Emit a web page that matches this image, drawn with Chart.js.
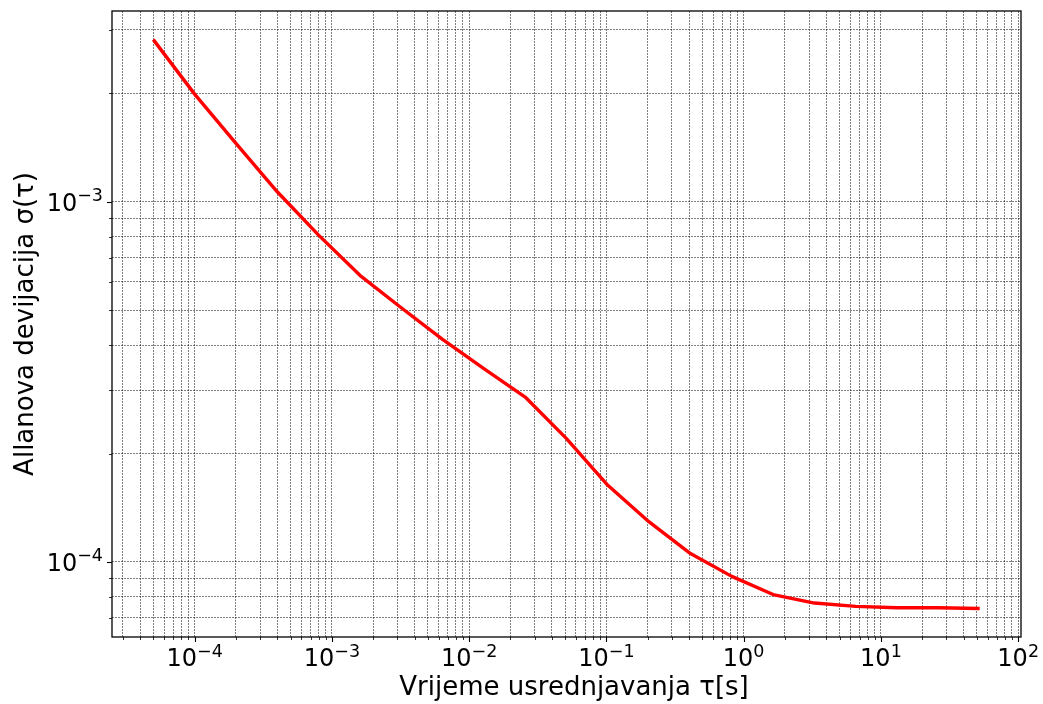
<!DOCTYPE html>
<html>
<head>
<meta charset="utf-8">
<script src="https://cdn.jsdelivr.net/npm/chart.js@4.4.0/dist/chart.umd.min.js"></script>
<style>
  html, body { margin: 0; padding: 0; background: #ffffff; }
  #wrap { width: 1043px; height: 704px; }
</style>
</head>
<body>
<div id="wrap"><canvas id="c" width="1043" height="704"></canvas></div>
<script>
// Averaging times (s), octave spaced from the 50 µs sample period
const tau = [5e-5, 1e-4, 2e-4, 4e-4, 8e-4, 1.6e-3, 3.2e-3, 6.4e-3, 1.28e-2, 2.56e-2,
             5.12e-2, 0.1024, 0.2048, 0.4096, 0.8192, 1.6384, 3.2768, 6.5536,
             13.1072, 26.2144, 52.4288];
// Allan deviation at each averaging time
const adev = [2.82e-3, 1.99e-3, 1.452e-3, 1.066e-3, 8.08e-4, 6.25e-4, 5.08e-4, 4.15e-4,
              3.44e-4, 2.87e-4, 2.20e-4, 1.633e-4, 1.292e-4, 1.055e-4, 9.12e-5,
              8.12e-5, 7.69e-5, 7.53e-5, 7.46e-5, 7.46e-5, 7.43e-5];
// Exponents of the labelled decades
const xTickExponents = [-4, -3, -2, -1, 0, 1, 2];
const yTickExponents = [-4, -3];
const xTitle = 'Vrijeme usrednjavanja τ[s]';
const yTitle = 'Allanova devijacija σ(τ)';

const FONT = '"DejaVu Sans", "Liberation Sans", sans-serif';

// All 1..9 × 10^k positions inside the axis range
function logTicks(min, max) {
  const out = [];
  for (let k = Math.floor(Math.log10(min)); k <= Math.ceil(Math.log10(max)); k++) {
    for (let m = 1; m <= 9; m++) {
      const v = m * Math.pow(10, k);
      if (v >= min && v <= max) out.push({ value: v, major: m === 1 });
    }
  }
  return out;
}

function supText(exp) {
  return (exp < 0 ? '\u2212' : '') + Math.abs(exp);
}

const axisDecor = {
  id: 'axisDecor',
  afterDraw(chart) {
    const ctx = chart.ctx;
    const a = chart.chartArea;
    const xs = chart.scales.x, ys = chart.scales.y;
    ctx.save();

    // tick marks, pointing outward
    ctx.strokeStyle = '#000';
    xs.ticks.forEach(t => {
      const px = Math.round(xs.getPixelForValue(t.value)) + 0.5;
      ctx.lineWidth = t.major ? 1.1 : 0.8;
      ctx.beginPath();
      ctx.moveTo(px, a.bottom);
      ctx.lineTo(px, a.bottom + (t.major ? 5 : 3));
      ctx.stroke();
    });
    ys.ticks.forEach(t => {
      const py = Math.round(ys.getPixelForValue(t.value)) + 0.5;
      ctx.lineWidth = t.major ? 1.1 : 0.8;
      ctx.beginPath();
      ctx.moveTo(a.left, py);
      ctx.lineTo(a.left - (t.major ? 5 : 3), py);
      ctx.stroke();
    });

    // frame
    ctx.lineWidth = 1.3;
    ctx.strokeRect(a.left, a.top, a.right - a.left, a.bottom - a.top);

    // decade labels 10^k
    ctx.fillStyle = '#000';
    ctx.textAlign = 'left';
    ctx.textBaseline = 'alphabetic';
    const baseFont = '24px ' + FONT, supFont = '17.5px ' + FONT;
    const widths = exp => {
      ctx.font = baseFont; const w1 = ctx.measureText('10').width;
      ctx.font = supFont; const w2 = ctx.measureText(supText(exp)).width;
      return [w1, w2];
    };
    xTickExponents.forEach(e => {
      const px = xs.getPixelForValue(Math.pow(10, e));
      const [w1, w2] = widths(e);
      const x0 = px - (w1 + w2) / 2;
      const base = a.bottom + 29;
      ctx.font = baseFont; ctx.fillText('10', x0, base);
      ctx.font = supFont; ctx.fillText(supText(e), x0 + w1, base - 9);
    });
    yTickExponents.forEach(e => {
      const py = ys.getPixelForValue(Math.pow(10, e));
      const [w1, w2] = widths(e);
      const x0 = a.left - 9 - (w1 + w2);
      const base = py + 9;
      ctx.font = baseFont; ctx.fillText('10', x0, base);
      ctx.font = supFont; ctx.fillText(supText(e), x0 + w1, base - 10);
    });

    // axis titles
    ctx.font = '26px ' + FONT;
    ctx.textAlign = 'center';
    ctx.fillText(xTitle, 574, 695);
    ctx.save();
    ctx.translate(33, (a.top + a.bottom) / 2);
    ctx.rotate(-Math.PI / 2);
    ctx.fillText(yTitle, 0, 0);
    ctx.restore();

    ctx.restore();
  }
};

const gridOpts = {
  color: 'rgba(0,0,0,0.5)',
  lineWidth: 1,
  drawTicks: false
};

new Chart(document.getElementById('c'), {
  type: 'line',
  data: {
    datasets: [{
      data: tau.map((t, i) => ({ x: t, y: adev[i] })),
      borderColor: '#ff0000',
      borderWidth: 3.4,
      borderJoinStyle: 'round',
      pointRadius: 0,
      tension: 0,
      fill: false
    }]
  },
  options: {
    responsive: false,
    animation: false,
    devicePixelRatio: 1,
    layout: { padding: { left: 0, right: 22, top: 11, bottom: 0 } },
    plugins: { legend: { display: false }, tooltip: { enabled: false } },
    scales: {
      x: {
        type: 'logarithmic',
        min: Math.pow(10, -4.602),
        max: Math.pow(10, 2.0205),
        afterBuildTicks: s => { s.ticks = logTicks(s.min, s.max); },
        afterFit: s => { s.height = 67; },
        ticks: { display: false },
        grid: gridOpts,
        border: { display: false, dash: [2, 1] }
      },
      y: {
        type: 'logarithmic',
        min: Math.pow(10, -4.2083),
        max: Math.pow(10, -2.4703),
        afterBuildTicks: s => { s.ticks = logTicks(s.min, s.max); },
        afterFit: s => { s.width = 112; },
        ticks: { display: false },
        grid: gridOpts,
        border: { display: false, dash: [2, 1] }
      }
    }
  },
  plugins: [axisDecor]
});
</script>
</body>
</html>
